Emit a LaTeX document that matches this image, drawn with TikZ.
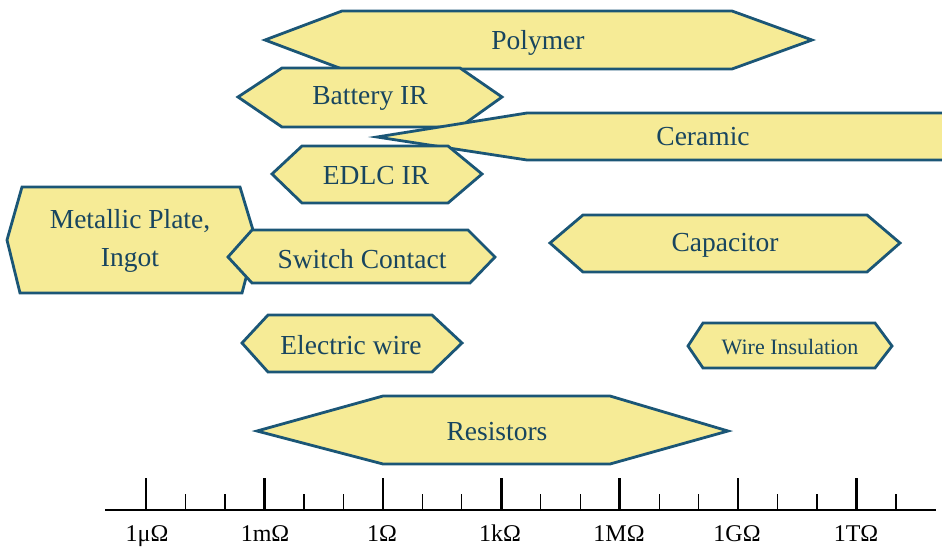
\documentclass[tikz,border=0pt]{standalone}
\usepackage{fontspec}
\setmainfont{Liberation Serif}
\definecolor{fl}{HTML}{F6EB96}
\definecolor{bd}{HTML}{1B5676}
\definecolor{tx}{HTML}{18455F}
\begin{document}
\begin{tikzpicture}[x=1pt,y=-1pt,
  band/.style={draw=bd,fill=fl,line width=2.8pt,line join=miter},
  lbl/.style={text=tx,font=\fontsize{27.5}{31}\selectfont,inner sep=0pt,align=center},
  slbl/.style={text=tx,font=\fontsize{22}{26}\selectfont,inner sep=0pt},
  axlbl/.style={text=black,font=\fontsize{24}{27}\selectfont,inner sep=0pt,anchor=base},
  major/.style={line width=2.6pt},
  minor/.style={line width=1.2pt}]
\useasboundingbox (0,0) rectangle (942,549);
\clip (0,0) rectangle (942,549);
% Polymer
\draw[band] (265,40) -- (342,11) -- (732,11) -- (812,40) -- (732,69) -- (342,69) -- cycle;
\node[lbl] (polymer) at (538,43) {Polymer};
% Battery IR
\draw[band] (238,97) -- (282,68) -- (460,68) -- (502,97) -- (460,127) -- (282,127) -- cycle;
\node[lbl] (battery) at (370,98) {Battery IR};
% Ceramic
\draw[band] (377,137) -- (527,113) -- (960,113) -- (960,160) -- (527,160) -- cycle;
\node[lbl] (ceramic) at (703,137) {Ceramic};
% EDLC IR
\draw[band] (272,174) -- (302,146) -- (448,146) -- (482,174) -- (448,203) -- (302,203) -- cycle;
\node[lbl] (edlc) at (376,176) {EDLC IR};
% Metallic plate
\draw[band] (7,240) -- (22,187) -- (240,187) -- (256,240) -- (242,293) -- (20,293) -- cycle;
\node[lbl] (metal) at (130,241) {Metallic Plate,\\[7pt]Ingot};
% Switch contact
\draw[band] (228,257) -- (252,230) -- (468,230) -- (495,257) -- (470,283) -- (252,283) -- cycle;
\node[lbl] (switch) at (362,259) {Switch Contact};
% Capacitor
\draw[band] (550,243) -- (583,215) -- (867,215) -- (900,243) -- (867,272) -- (583,272) -- cycle;
\node[lbl] (capacitor) at (725,245) {Capacitor};
% Electric wire
\draw[band] (242,343) -- (268,315) -- (432,315) -- (462,343) -- (432,372) -- (268,372) -- cycle;
\node[lbl] (wire) at (351,345) {Electric wire};
% Wire insulation
\draw[band] (688,346) -- (703,323) -- (875,323) -- (892,346) -- (875,368) -- (703,368) -- cycle;
\node[slbl] (insul) at (790,347) {Wire Insulation};
% Resistors
\draw[band] (257,431) -- (383,396) -- (610,396) -- (728,431) -- (610,464) -- (383,464) -- cycle;
\node[lbl] (resist) at (497,432) {Resistors};
% Axis
\coordinate (axL) at (105,510);
\coordinate (axR) at (936,510);
\draw[major] (axL) -- (axR);
\foreach \k in {0,...,6}{
  \draw[major] (146+118.4*\k,510) -- (146+118.4*\k,478);
}
\foreach \k in {0,...,5}{
  \draw[minor] (146+118.4*\k+39.5,510) -- (146+118.4*\k+39.5,494);
  \draw[minor] (146+118.4*\k+79,510) -- (146+118.4*\k+79,494);
}
\draw[minor] (146+118.4*6+39.5,510) -- (146+118.4*6+39.5,494);
\node[axlbl] (l0) at (147,541) {1μΩ};
\node[axlbl] (l1) at (265,541) {1mΩ};
\node[axlbl] (l2) at (382,541) {1Ω};
\node[axlbl] (l3) at (500,541) {1kΩ};
\node[axlbl] (l4) at (619,541) {1MΩ};
\node[axlbl] (l5) at (737,541) {1GΩ};
\node[axlbl] (l6) at (856,541) {1TΩ};
\end{tikzpicture}
\end{document}
